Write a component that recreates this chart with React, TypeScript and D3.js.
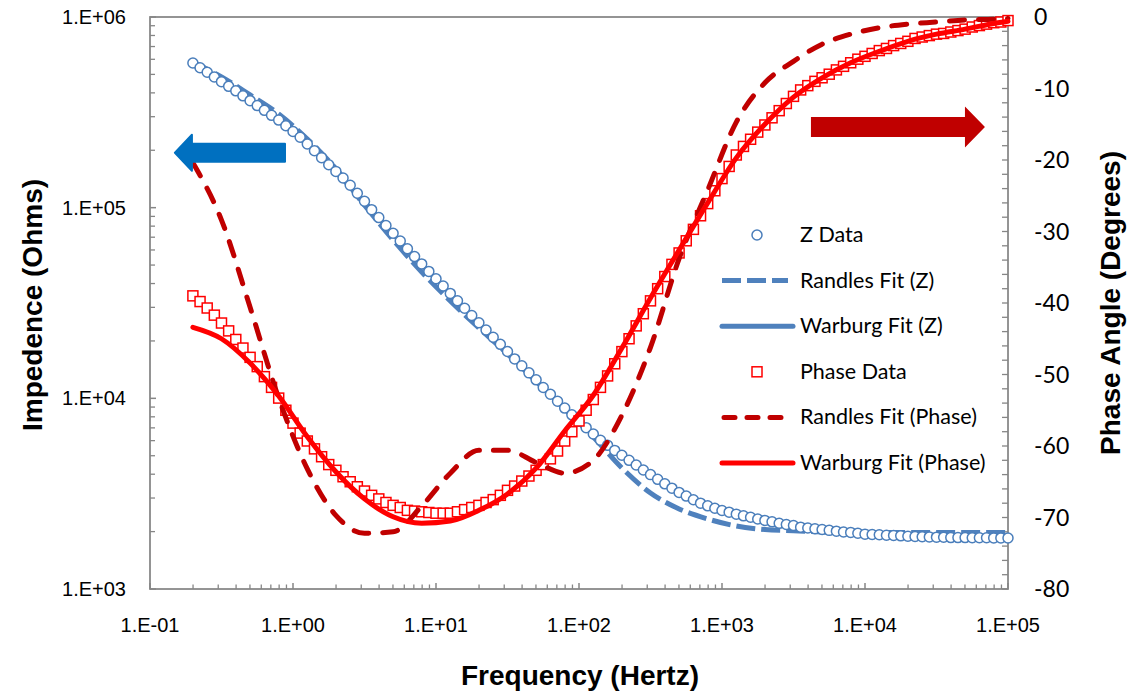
import React from "react";
import * as d3 from "d3";

// Measurement frequencies (Hz), 20 points per decade
const freqHz = [
  0.1995, 0.2239, 0.2512, 0.2818, 0.3162, 0.3548, 0.3981, 0.4467, 0.5012, 0.5623, 0.631, 0.7079, 0.7943, 0.8913,
  1, 1.122, 1.259, 1.413, 1.585, 1.778, 1.995, 2.239, 2.512, 2.818, 3.162, 3.548, 3.981, 4.467, 5.012, 5.623, 6.31, 7.079, 7.943, 8.913,
  10, 11.22, 12.59, 14.13, 15.85, 17.78, 19.95, 22.39, 25.12, 28.18, 31.62, 35.48, 39.81, 44.67, 50.12, 56.23, 63.1, 70.79, 79.43, 89.13,
  100, 112.2, 125.9, 141.3, 158.5, 177.8, 199.5, 223.9, 251.2, 281.8, 316.2, 354.8, 398.1, 446.7, 501.2, 562.3, 631.0, 707.9, 794.3, 891.3,
  1000, 1122, 1259, 1413, 1585, 1778, 1995, 2239, 2512, 2818, 3162, 3548, 3981, 4467, 5012, 5623, 6310, 7079, 7943, 8913,
  10000, 11220, 12590, 14130, 15850, 17780, 19950, 22390, 25120, 28180, 31620, 35480, 39810, 44670, 50120, 56230, 63100, 70790, 79430, 89130,
  100000,
];

// Measured impedance magnitude (Ohms)
const zDataOhms = [
  574000, 542000, 513000, 485000, 458000, 433000, 410000, 386000, 364000, 343000, 324000, 305000, 288000, 269000,
  251000, 234000, 216000, 199000, 183000, 168000, 155000, 143000, 131000, 119000, 108000, 97600, 88700, 80600, 73400, 66800, 60800, 55400, 50700, 46300,
  42400, 38800, 35500, 32500, 29700, 27200, 24900, 22800, 20900, 19200, 17600, 16100, 14800, 13600, 12500, 11400, 10500, 9660, 8890, 8190,
  7580, 7020, 6500, 6020, 5670, 5330, 5030, 4730, 4470, 4210, 3980, 3760, 3560, 3380, 3210, 3070, 2940, 2820, 2730, 2650,
  2580, 2530, 2470, 2420, 2380, 2330, 2290, 2250, 2210, 2180, 2150, 2110, 2090, 2070, 2050, 2030, 2010, 1990, 1980, 1960,
  1940, 1930, 1925, 1915, 1910, 1900, 1890, 1886, 1880, 1876, 1870, 1867, 1860, 1860, 1860, 1858, 1856, 1856, 1853, 1853,
  1851,
];

// Measured phase angle (degrees)
const phaseDataDeg = [
  -39.0, -39.8, -40.7, -41.7, -42.8, -43.9, -45.1, -46.3, -47.6, -48.9, -50.3, -51.8, -53.3, -55.0,
  -56.8, -58.2, -59.3, -60.4, -61.5, -62.6, -63.4, -64.3, -65.0, -65.7, -66.3, -66.9, -67.4, -67.9, -68.3, -68.6, -69.0, -69.1, -69.2, -69.3,
  -69.4, -69.4, -69.4, -69.2, -68.9, -68.6, -68.3, -67.9, -67.5, -66.9, -66.2, -65.6, -64.9, -64.2, -63.4, -62.6, -61.8, -60.7, -59.3, -58.0,
  -56.5, -55.0, -53.5, -51.8, -50.2, -48.5, -46.8, -45.0, -43.2, -41.5, -39.7, -38.0, -36.3, -34.6, -33.0, -31.3, -29.7, -27.8, -26.1, -24.3,
  -22.6, -20.9, -19.3, -18.1, -17.1, -16.1, -15.1, -14.1, -13.1, -12.1, -11.1, -10.2, -9.6, -9.0, -8.5, -8.0, -7.4, -6.9, -6.4, -5.9,
  -5.5, -5.1, -4.7, -4.4, -4.0, -3.7, -3.4, -3.0, -2.8, -2.6, -2.4, -2.3, -2.1, -1.9, -1.7, -1.4, -1.2, -1.0, -0.8, -0.7,
  -0.5,
];

// Frequencies at which the fitted models are evaluated (Hz)
const fitFreqHz = [
  0.1995, 0.3162, 0.5012, 0.7943, 1.259, 1.995, 3.162, 5.012, 7.943, 12.59, 19.95, 31.62, 50.12, 79.43, 125.9,
  199.5, 316.2, 501.2, 794.3, 1259, 1995, 3162, 5012, 7943, 12590, 19950, 31620, 50120, 79430, 100000,
];

const randlesZOhms = [
  581000, 485000, 390000, 310000, 229000, 160000, 103000, 67700, 46000, 32400, 23400, 17100, 12300, 8790, 6270,
  4310, 3190, 2630, 2330, 2140, 2050, 2020, 1990, 1980, 1980, 1980, 1980, 1980, 1980, 1980,
];

const warburgZOhms = [
  565000, 455000, 362000, 286000, 215000, 154000, 107000, 73000, 50500, 35400, 24800, 17500, 12400, 8850, 6450,
  5000, 3950, 3190, 2720, 2460, 2280, 2140, 2040, 1975, 1920, 1888, 1868, 1858, 1852, 1850,
];

const randlesPhaseDeg = [
  -20.4, -28.4, -40.6, -53.3, -63.2, -69.7, -72.2, -72.0, -68.4, -63.8, -60.6, -60.6, -62.3, -63.8, -62.0,
  -55.7, -46.2, -33.8, -24.2, -14.7, -9.2, -6.2, -3.8, -2.4, -1.5, -1.0, -0.7, -0.4, -0.3, -0.2,
];

const warburgPhaseDeg = [
  -43.4, -45.0, -48.4, -53.0, -58.7, -63.6, -67.4, -69.9, -70.8, -70.5, -69.0, -66.7, -63.1, -57.9, -52.9,
  -46.3, -39.3, -32.6, -26.0, -19.7, -15.0, -11.2, -8.5, -6.4, -4.8, -3.4, -2.4, -1.7, -0.9, -0.6,
];

// Axis ticks
const freqTickValues = [0.1, 1, 10, 100, 1000, 10000, 100000];
const freqTickLabels = ["1.E-01", "1.E+00", "1.E+01", "1.E+02", "1.E+03", "1.E+04", "1.E+05"];
const zTickValues = [1000, 10000, 100000, 1000000];
const zTickLabels = ["1.E+03", "1.E+04", "1.E+05", "1.E+06"];
const phaseTickValues = [0, -10, -20, -30, -40, -50, -60, -70, -80];

const seriesNames = [
  "Z Data",
  "Randles Fit (Z)",
  "Warburg Fit (Z)",
  "Phase Data",
  "Randles Fit (Phase)",
  "Warburg Fit (Phase)",
];

const W = 1129;
const H = 692;
const M = { left: 150, right: 1008, top: 17, bottom: 589 };

const BLUE = "#4F81BD";
const MARK_BLUE = "#4A7EBB";
const RED = "#FF0000";
const DARK_RED = "#C00000";
const AXIS = "#868686";
const SANS = "'Liberation Sans', Arial, sans-serif";
const CAL = "Lato, Carlito, Calibri, sans-serif";
const RED_DASH = "15,14";
const BLUE_DASH = "19,6";

export default function App() {
  const x = d3.scaleLog().domain([0.1, 100000]).range([M.left, M.right]);
  const yZ = d3.scaleLog().domain([1000, 1000000]).range([M.bottom, M.top]);
  const yP = d3.scaleLinear().domain([-80, 0]).range([M.bottom, M.top]);

  const zLine = d3
    .line<[number, number]>()
    .x((d) => x(d[0]))
    .y((d) => yZ(d[1]))
    .curve(d3.curveMonotoneX);
  const pLine = d3
    .line<[number, number]>()
    .x((d) => x(d[0]))
    .y((d) => yP(d[1]))
    .curve(d3.curveMonotoneX);

  const pair = (fs: number[], vs: number[]) => fs.map((f, i) => [f, vs[i]] as [number, number]);

  // minor ticks on the log axes
  const freqMinor: number[] = [];
  for (let e = -1; e < 5; e++) for (let m = 2; m <= 9; m++) freqMinor.push(m * Math.pow(10, e));
  const zMinor: number[] = [];
  for (let e = 3; e < 6; e++) for (let m = 2; m <= 9; m++) zMinor.push(m * Math.pow(10, e));
  const phaseMinor = d3.range(-80, 1, 2);

  // direction arrows (positions in data units)
  const blueY = yZ(194000);
  const blueTip = x(0.147);
  const blueTail = x(0.879);
  const redY = yP(-15.4);
  const redTail = x(4188);
  const redTip = x(69000);

  const blueArrow = [
    [blueTail, blueY - 9],
    [blueTip + 18, blueY - 9],
    [blueTip + 18, blueY - 18],
    [blueTip + 1, blueY],
    [blueTip + 18, blueY + 18],
    [blueTip + 18, blueY + 9],
    [blueTail, blueY + 9],
  ];
  const redArrow = [
    [redTail, redY - 10],
    [redTip - 20, redY - 10],
    [redTip - 20, redY - 20.5],
    [redTip, redY],
    [redTip - 20, redY + 20.5],
    [redTip - 20, redY + 10],
    [redTail, redY + 10],
  ];
  const poly = (pts: number[][]) => "M" + pts.map((p) => p.join(",")).join("L") + "Z";

  const legendX0 = 722;
  const legendX1 = 793;
  const legendMarkX = 757;
  const legendTextX = 800;
  const legendY = (i: number) => 235 + i * 45.6;

  return (
    <svg
      width={W}
      height={H}
      viewBox={`0 0 ${W} ${H}`}
      style={{ position: "absolute", left: 0, top: 0, background: "#fff" }}
    >
      <rect x={0} y={0} width={W} height={H} fill="#fff" />

      {/* plot frame */}
      <rect
        x={M.left}
        y={M.top}
        width={M.right - M.left}
        height={M.bottom - M.top}
        fill="none"
        stroke={AXIS}
        strokeWidth={1.75}
      />

      {/* bottom axis ticks */}
      {freqMinor.map((v, i) => (
        <line key={"fm" + i} x1={x(v)} x2={x(v)} y1={M.bottom} y2={M.bottom - 4.5} stroke={AXIS} strokeWidth={1.3} />
      ))}
      {freqTickValues.map((v, i) => (
        <line key={"fM" + i} x1={x(v)} x2={x(v)} y1={M.bottom} y2={M.bottom - 6} stroke={AXIS} strokeWidth={1.5} />
      ))}
      {freqTickValues.map((v, i) => (
        <text key={"fl" + i} x={x(v)} y={632} textAnchor="middle" fontFamily={SANS} fontSize={20} fill="#000">
          {freqTickLabels[i]}
        </text>
      ))}

      {/* left axis ticks */}
      {zMinor.map((v, i) => (
        <line key={"zm" + i} x1={M.left} x2={M.left + 5} y1={yZ(v)} y2={yZ(v)} stroke={AXIS} strokeWidth={1.3} />
      ))}
      {zTickValues.map((v, i) => (
        <line key={"zM" + i} x1={M.left} x2={M.left + 6} y1={yZ(v)} y2={yZ(v)} stroke={AXIS} strokeWidth={1.5} />
      ))}
      {zTickValues.map((v, i) => (
        <text key={"zl" + i} x={126} y={yZ(v) + 7} textAnchor="end" fontFamily={SANS} fontSize={20} fill="#000">
          {zTickLabels[i]}
        </text>
      ))}

      {/* right axis ticks */}
      {phaseMinor.map((v, i) => (
        <line key={"pm" + i} x1={M.right} x2={M.right - 6} y1={yP(v)} y2={yP(v)} stroke={AXIS} strokeWidth={1.3} />
      ))}
      {phaseTickValues.map((v, i) => (
        <text key={"pl" + i} x={1034} y={yP(v) + 8} textAnchor="start" fontFamily={CAL} fontSize={23} fill="#000">
          {String(v)}
        </text>
      ))}

      {/* axis titles */}
      <text x={580} y={685} textAnchor="middle" fontFamily={SANS} fontWeight="bold" fontSize={28} fill="#000">
        Frequency (Hertz)
      </text>
      <text
        transform={`translate(42,305) rotate(-90)`}
        textAnchor="middle"
        fontFamily={SANS}
        fontWeight="bold"
        fontSize={28}
        fill="#000"
      >
        Impedence (Ohms)
      </text>
      <text
        transform={`translate(1120,303) rotate(-90)`}
        textAnchor="middle"
        fontFamily={SANS}
        fontWeight="bold"
        fontSize={28}
        fill="#000"
      >
        Phase Angle (Degrees)
      </text>

      {/* impedance series */}
      <path
        d={zLine(pair(fitFreqHz, randlesZOhms)) || ""}
        fill="none"
        stroke={BLUE}
        strokeWidth={5}
        strokeDasharray={BLUE_DASH}
      />
      <path
        d={zLine(pair(fitFreqHz, warburgZOhms)) || ""}
        fill="none"
        stroke={BLUE}
        strokeWidth={5}
        strokeLinecap="round"
      />
      {freqHz.map((f, i) => (
        <circle key={"zc" + i} cx={x(f)} cy={yZ(zDataOhms[i])} r={5} fill="#fff" stroke={MARK_BLUE} strokeWidth={1.5} />
      ))}

      {/* phase series */}
      {freqHz.map((f, i) => (
        <rect
          key={"ps" + i}
          x={x(f) - 5}
          y={yP(phaseDataDeg[i]) - 5}
          width={10}
          height={10}
          fill="#fff"
          stroke={RED}
          strokeWidth={1.5}
        />
      ))}
      <path
        d={pLine(pair(fitFreqHz, randlesPhaseDeg)) || ""}
        fill="none"
        stroke={DARK_RED}
        strokeWidth={5}
        strokeLinecap="round"
        strokeDasharray={RED_DASH}
      />
      <path
        d={pLine(pair(fitFreqHz, warburgPhaseDeg)) || ""}
        fill="none"
        stroke={RED}
        strokeWidth={5}
        strokeLinecap="round"
      />

      {/* direction arrows */}
      <path d={poly(blueArrow)} fill="#0070C0" stroke="#0070C0" strokeWidth={2} strokeLinejoin="round" />
      <path d={poly(redArrow)} fill={DARK_RED} />

      {/* legend */}
      <g>
        <circle cx={legendMarkX} cy={legendY(0)} r={5} fill="#fff" stroke={MARK_BLUE} strokeWidth={1.5} />
        <line
          x1={legendX0}
          x2={legendX1 - 5}
          y1={legendY(1)}
          y2={legendY(1)}
          stroke={BLUE}
          strokeWidth={5}
          strokeDasharray={BLUE_DASH}
        />
        <line
          x1={legendX0}
          x2={legendX1}
          y1={legendY(2)}
          y2={legendY(2)}
          stroke={BLUE}
          strokeWidth={5}
          strokeLinecap="round"
        />
        <rect x={legendMarkX - 5} y={legendY(3) - 5} width={10} height={10} fill="#fff" stroke={RED} strokeWidth={1.5} />
        <line
          x1={legendX0 + 2}
          x2={legendX1 - 8}
          y1={legendY(4)}
          y2={legendY(4)}
          stroke={DARK_RED}
          strokeWidth={5}
          strokeLinecap="round"
          strokeDasharray="11,12"
        />
        <line
          x1={legendX0}
          x2={legendX1}
          y1={legendY(5)}
          y2={legendY(5)}
          stroke={RED}
          strokeWidth={5}
          strokeLinecap="round"
        />
        {seriesNames.map((s, i) => (
          <text key={"lg" + i} x={legendTextX} y={legendY(i) + 7} fontFamily={CAL} fontSize={21.5} fill="#000">
            {s}
          </text>
        ))}
      </g>
    </svg>
  );
}
